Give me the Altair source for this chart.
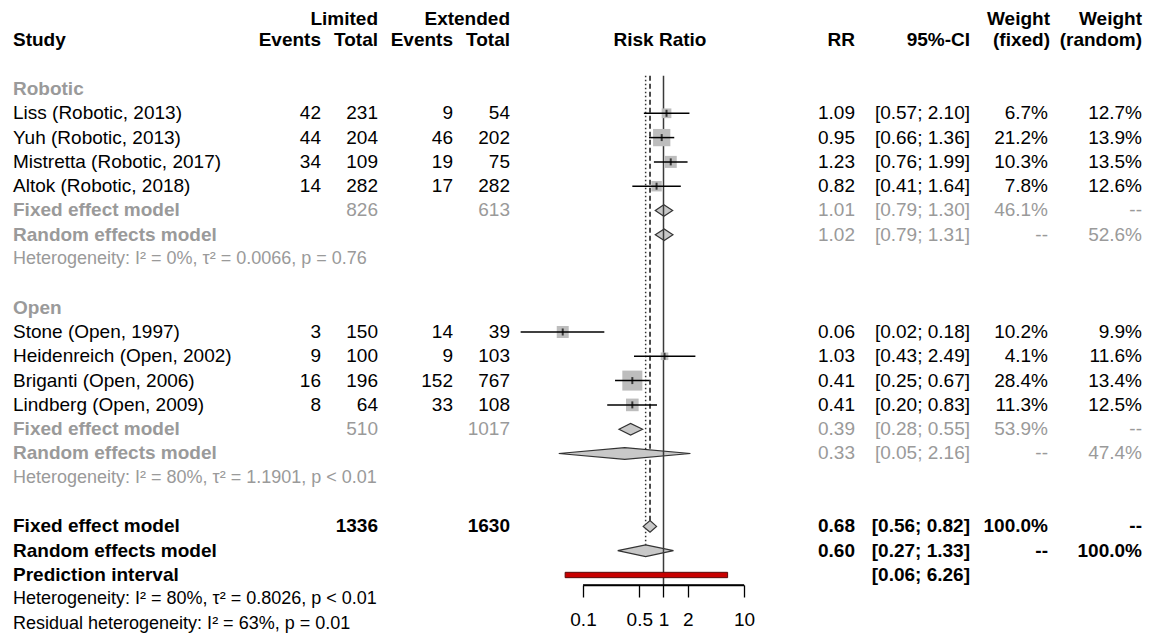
import altair as alt
import pandas as pd

# ---------------- data ----------------
study_rows = [1, 2, 3, 4, 10, 11, 12, 13]
study_labels = ["Liss (Robotic, 2013)", "Yuh (Robotic, 2013)", "Mistretta (Robotic, 2017)",
                "Altok (Robotic, 2018)", "Stone (Open, 1997)", "Heidenreich (Open, 2002)",
                "Briganti (Open, 2006)", "Lindberg (Open, 2009)"]
ev_lim = ["42", "44", "34", "14", "3", "9", "16", "8"]
tot_lim = ["231", "204", "109", "282", "150", "100", "196", "64"]
ev_ext = ["9", "46", "19", "17", "14", "9", "152", "33"]
tot_ext = ["54", "202", "75", "282", "39", "103", "767", "108"]
rr = [1.09, 0.95, 1.23, 0.82, 0.056, 1.03, 0.41, 0.41]
rr_lo = [0.57, 0.66, 0.76, 0.41, 0.0168, 0.43, 0.25, 0.20]
rr_hi = [2.10, 1.36, 1.99, 1.64, 0.184, 2.49, 0.67, 0.83]
w_fixed = [6.7, 21.2, 10.3, 7.8, 10.2, 4.1, 28.4, 11.3]
rr_txt = ["1.09", "0.95", "1.23", "0.82", "0.06", "1.03", "0.41", "0.41"]
ci_txt = ["[0.57; 2.10]", "[0.66; 1.36]", "[0.76; 1.99]", "[0.41; 1.64]",
          "[0.02; 0.18]", "[0.43; 2.49]", "[0.25; 0.67]", "[0.20; 0.83]"]
wf_txt = ["6.7%", "21.2%", "10.3%", "7.8%", "10.2%", "4.1%", "28.4%", "11.3%"]
wr_txt = ["12.7%", "13.9%", "13.5%", "12.6%", "9.9%", "11.6%", "13.4%", "12.5%"]

group_rows = [0, 9]
group_labels = ["Robotic", "Open"]

sum_rows = [5, 6, 14, 15, 18, 19]
sum_kind = ["sub", "sub", "sub", "sub", "overall", "overall"]
sum_labels = ["Fixed effect model", "Random effects model", "Fixed effect model",
              "Random effects model", "Fixed effect model", "Random effects model"]
sum_tot_lim = ["826", "", "510", "", "1336", ""]
sum_tot_ext = ["613", "", "1017", "", "1630", ""]
sum_rr = [1.01, 1.02, 0.39, 0.33, 0.68, 0.60]
sum_lo = [0.79, 0.79, 0.28, 0.05, 0.56, 0.27]
sum_hi = [1.30, 1.31, 0.55, 2.16, 0.82, 1.33]
sum_rr_txt = ["1.01", "1.02", "0.39", "0.33", "0.68", "0.60"]
sum_ci_txt = ["[0.79; 1.30]", "[0.79; 1.31]", "[0.28; 0.55]", "[0.05; 2.16]",
              "[0.56; 0.82]", "[0.27; 1.33]"]
sum_wf_txt = ["46.1%", "--", "53.9%", "--", "100.0%", "--"]
sum_wr_txt = ["--", "52.6%", "--", "47.4%", "--", "100.0%"]

pred_row = 20
pred_label = "Prediction interval"
pred_lo, pred_hi = 0.06, 6.26
pred_ci_txt = "[0.06; 6.26]"

het_rows = [7, 16]
het_txt = ["Heterogeneity: I\u00b2 = 0%, \u03c4\u00b2 = 0.0066, p = 0.76",
           "Heterogeneity: I\u00b2 = 80%, \u03c4\u00b2 = 1.1901, p < 0.01"]
ohet_rows = [21, 22]
ohet_txt = ["Heterogeneity: I\u00b2 = 80%, \u03c4\u00b2 = 0.8026, p < 0.01",
            "Residual heterogeneity: I\u00b2 = 63%, p = 0.01"]

ref_x = [1.0, 0.68, 0.60]          # no effect, fixed, random
ref_end_row = [None, 18, 19]
tick_values = [0.1, 0.5, 1, 2, 10]

# ---------------- layout / style ----------------
FONT = "Liberation Sans"
FS = 19
FSH = 18
GRAY = "#9a9a9a"
Y0, Y1 = -3.333, 20.412
H = 577
W_LEFT, W_FOREST, W_RIGHT = 575, 161, 399
DIAM_H = 0.24
HDR1, HDR2 = -2.88, -2.0   # header line positions (row units)

yscale = alt.Scale(domain=[Y0, Y1], reverse=True, nice=False, zero=False)


def Y(field="row"):
    return alt.Y(f"{field}:Q", scale=yscale, axis=None)


xscale = alt.Scale(type="log", domain=[0.1, 10], nice=False)
xaxis = alt.Axis(values=tick_values, format="~g", title=None, grid=False,
                 domainColor="black", domainWidth=1.3, tickColor="black", tickWidth=1.3,
                 tickSize=12, labelFont=FONT, labelFontSize=19, labelColor="black",
                 labelPadding=13, labelFlush=False, labelOverlap=False, labelBound=False)


def X(field):
    return alt.X(f"{field}:Q", scale=xscale, axis=xaxis)


# ---------------- table ----------------
recs = []
for i in range(len(group_rows)):
    recs.append(dict(row=group_rows[i], label=group_labels[i], kind="group"))
for i in range(len(study_rows)):
    recs.append(dict(row=study_rows[i], label=study_labels[i], kind="study",
                     el=ev_lim[i], tl=tot_lim[i], ee=ev_ext[i], te=tot_ext[i],
                     rr=rr_txt[i], ci=ci_txt[i], wf=wf_txt[i], wr=wr_txt[i]))
for i in range(len(sum_rows)):
    recs.append(dict(row=sum_rows[i], label=sum_labels[i], kind=sum_kind[i],
                     tl=sum_tot_lim[i], te=sum_tot_ext[i], rr=sum_rr_txt[i],
                     ci=sum_ci_txt[i], wf=sum_wf_txt[i], wr=sum_wr_txt[i]))
recs.append(dict(row=pred_row, label=pred_label, kind="overall", ci=pred_ci_txt))
for i in range(len(het_rows)):
    recs.append(dict(row=het_rows[i], label=het_txt[i], kind="het"))
for i in range(len(ohet_rows)):
    recs.append(dict(row=ohet_rows[i], label=ohet_txt[i], kind="ohet"))
tab = pd.DataFrame(recs).fillna("")

styles = {
    "group": dict(lab=(GRAY, True), num=(GRAY, False), size=FS),
    "study": dict(lab=("black", False), num=("black", False), size=FS),
    "sub": dict(lab=(GRAY, True), num=(GRAY, False), size=FS),
    "overall": dict(lab=("black", True), num=("black", True), size=FS),
    "het": dict(lab=(GRAY, False), num=(GRAY, False), size=FSH),
    "ohet": dict(lab=("black", False), num=("black", False), size=FSH),
}

left_cols = [("el", 313), ("tl", 370), ("ee", 445), ("te", 502)]
right_cols = [("rr", 111), ("ci", 226), ("wf", 304), ("wr", 398)]


def text_layer(data, field, x, align="right", color="black", bold=False, size=FS):
    return alt.Chart(data).mark_text(
        align=align, baseline="middle", font=FONT, fontSize=size,
        fontWeight="bold" if bold else "normal", color=color
    ).encode(x=alt.value(x), y=Y("row"), text=f"{field}:N")


left_layers, right_layers = [], []
for kind, st in styles.items():
    sub = tab[tab["kind"] == kind]
    if sub.empty:
        continue
    left_layers.append(text_layer(sub, "label", 5, "left", st["lab"][0], st["lab"][1], st["size"]))
    for col, x in left_cols:
        s2 = sub[sub[col] != ""]
        if not s2.empty:
            left_layers.append(text_layer(s2, col, x, "right", st["num"][0], st["num"][1], st["size"]))
    for col, x in right_cols:
        s2 = sub[sub[col] != ""]
        if not s2.empty:
            right_layers.append(text_layer(s2, col, x, "right", st["num"][0], st["num"][1], st["size"]))

# headers
hdr_left = [("Limited", HDR1, 370, "right"), ("Extended", HDR1, 502, "right"),
            ("Study", HDR2, 5, "left"), ("Events", HDR2, 313, "right"), ("Total", HDR2, 370, "right"),
            ("Events", HDR2, 445, "right"), ("Total", HDR2, 502, "right")]
hdr_right = [("RR", HDR2, 111, "right"), ("95%-CI", HDR2, 226, "right"),
             ("Weight", HDR1, 306, "right"), ("(fixed)", HDR2, 306, "right"),
             ("Weight", HDR1, 398, "right"), ("(random)", HDR2, 398, "right")]
for t, r, x, a in hdr_left:
    left_layers.append(text_layer(pd.DataFrame({"row": [r], "t": [t]}), "t", x, a, "black", True))
for t, r, x, a in hdr_right:
    right_layers.append(text_layer(pd.DataFrame({"row": [r], "t": [t]}), "t", x, a, "black", True))

left = alt.layer(*left_layers).properties(width=W_LEFT, height=H)
right = alt.layer(*right_layers).properties(width=W_RIGHT, height=H)

# ---------------- forest ----------------
studies = pd.DataFrame({"row": study_rows, "rr": rr, "lo": rr_lo, "hi": rr_hi, "w": w_fixed})

ref_df = pd.DataFrame({"x": ref_x, "top": [-0.55] * 3,
                       "bot": [Y1 if e is None else e for e in ref_end_row],
                       "k": ["solid", "dashed", "dotted"]})

diam = []
for i in range(len(sum_rows)):
    r = sum_rows[i]
    diam += [dict(id=i, x=sum_lo[i], y=r, y2=r),
             dict(id=i, x=sum_rr[i], y=r - DIAM_H, y2=r + DIAM_H),
             dict(id=i, x=sum_hi[i], y=r, y2=r)]
diam = pd.DataFrame(diam)

pred = pd.DataFrame({"lo": [pred_lo], "hi": [pred_hi], "y": [pred_row - 0.11], "y2": [pred_row + 0.11]})
base_line = pd.DataFrame({"lo": [tick_values[0]], "hi": [tick_values[-1]], "row": [Y1]})

f_layers = [
    alt.Chart(ref_df[ref_df.k == "dotted"]).mark_rule(color="#333333", strokeWidth=1.5, strokeDash=[1.5, 2.5])
    .encode(x=X("x"), y=Y("top"), y2="bot"),
    alt.Chart(ref_df[ref_df.k == "dashed"]).mark_rule(color="#222222", strokeWidth=1.6, strokeDash=[5, 3])
    .encode(x=X("x"), y=Y("top"), y2="bot"),
    alt.Chart(diam).mark_area(fill="#c8c8c8", stroke="#333333", strokeWidth=1.2, opacity=1)
    .encode(x=X("x"), y=Y("y"), y2="y2", detail="id:N"),
    alt.Chart(ref_df[ref_df.k == "solid"]).mark_rule(color="#3a3a3a", strokeWidth=1.5)
    .encode(x=X("x"), y=Y("top"), y2="bot"),
    alt.Chart(pred).mark_rect(fill="#c80000", stroke="#5a0a0a", strokeWidth=1)
    .encode(x=X("lo"), x2="hi", y=Y("y"), y2="y2"),
    alt.Chart(studies).mark_square(color="#bdbdbd", opacity=1)
    .encode(x=X("rr"), y=Y("row"),
            size=alt.Size("w:Q", scale=alt.Scale(domain=[0, 28.4], range=[0, 400]), legend=None)),
    alt.Chart(studies).mark_rule(color="black", strokeWidth=1.5)
    .encode(x=X("lo"), x2="hi", y=Y("row")),
    alt.Chart(studies).mark_tick(orient="vertical", color="black", size=7, thickness=2)
    .encode(x=X("rr"), y=Y("row")),
    alt.Chart(base_line).mark_rule(color="black", strokeWidth=1.3)
    .encode(x=X("lo"), x2="hi", y=Y("row")),
    text_layer(pd.DataFrame({"row": [HDR2], "t": ["Risk Ratio"]}), "t", 77, "center", "black", True),
]
forest = alt.layer(*f_layers).properties(width=W_FOREST, height=H)

chart = alt.hconcat(left, forest, right, spacing=0, bounds="flush").properties(
    padding=0
).configure_view(strokeWidth=0)

chart.save("out.html", embed_options={"renderer": "svg", "actions": False})
